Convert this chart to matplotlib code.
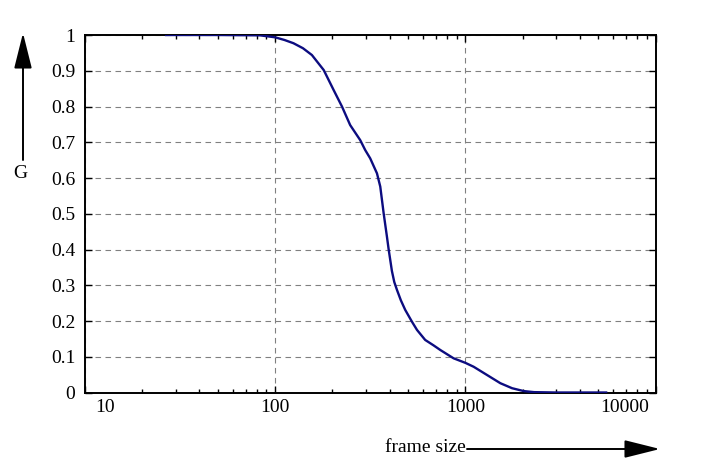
import numpy as np
import matplotlib
matplotlib.use("Agg")
import matplotlib.pyplot as plt
from matplotlib.ticker import FixedLocator, NullFormatter
from matplotlib.transforms import ScaledTranslation

# curve
frame_size = [26.7, 50, 83.4, 100, 112, 124.8, 140, 156, 180, 203, 224.5, 248, 280, 297.6,
              316, 343, 357, 372, 387, 395, 411, 423, 437, 458, 483, 524, 557, 615, 680,
              738, 867, 1000, 1106, 1300, 1528, 1761, 2026, 2300, 3000, 5500]
g_value = [1.0, 1.0, 0.999, 0.9935, 0.986, 0.977, 0.963, 0.944, 0.902, 0.846, 0.80, 0.748,
           0.706, 0.678, 0.655, 0.613, 0.576, 0.501, 0.436, 0.401, 0.340, 0.309, 0.287,
           0.258, 0.231, 0.198, 0.175, 0.147, 0.132, 0.119, 0.0957, 0.083, 0.072, 0.049,
           0.026, 0.012, 0.004, 0.001, 0.0, 0.0]

x_ticks = [10, 100, 1000, 10000]
x_labels = ["10", "100", "1000", "10000"]
y_ticks = [0, 0.1, 0.2, 0.3, 0.4, 0.5, 0.6, 0.7, 0.8, 0.9, 1]
y_labels = ["0", "0.1", "0.2", "0.3", "0.4", "0.5", "0.6", "0.7", "0.8", "0.9", "1"]

plt.rcParams["font.family"] = ["Liberation Serif", "DejaVu Serif"]
plt.rcParams["font.size"] = 14

fig = plt.figure(figsize=(7.08, 4.68), dpi=100)
ax = fig.add_axes([85 / 708, 1 - 392.5 / 468, 570.5 / 708, 357.5 / 468])

ax.plot(frame_size, g_value, color="#0c0c80", linewidth=1.7, zorder=3,
        solid_joinstyle="round")

ax.set_xscale("log")
ax.set_xlim(10, 10000)
ax.set_ylim(0, 1)
ax.set_xticks(x_ticks)
ax.set_xticklabels(x_labels)
minor = [m * 10 ** d for d in range(1, 4) for m in range(2, 10)]
ax.xaxis.set_minor_locator(FixedLocator(minor))
ax.xaxis.set_minor_formatter(NullFormatter())
ax.set_yticks(y_ticks)
ax.set_yticklabels(y_labels)

ax.tick_params(which="both", direction="in", top=True, right=True, width=1.0)
ax.tick_params(which="major", length=5)
ax.tick_params(which="minor", length=3)
ax.tick_params(axis="x", pad=5)
ax.tick_params(axis="y", pad=7)
for spine in ax.spines.values():
    spine.set_linewidth(1.4)

ax.xaxis.grid(True, which="major", color="#808080", linestyle=(0, (5, 4)), linewidth=0.8)
ax.yaxis.grid(True, which="major", color="#808080", linestyle=(0, (5, 4)), linewidth=0.8)
ax.set_axisbelow(True)

# end labels sit inward from their ticks
labels = ax.get_xticklabels()
labels[0].set_transform(labels[0].get_transform() + ScaledTranslation(20 / 100, 0, fig.dpi_scale_trans))
labels[-1].set_transform(labels[-1].get_transform() + ScaledTranslation(-31 / 100, 0, fig.dpi_scale_trans))

# axis name arrows
arrow = dict(arrowstyle="-|>,head_length=2.2,head_width=0.55", mutation_scale=10,
             color="black", linewidth=1.4, shrinkA=0, shrinkB=0)
ax.annotate("", xy=(23, 435), xytext=(23, 308), xycoords="figure pixels",
            textcoords="figure pixels", arrowprops=arrow)
fig.text(20 / 708, 1 - 173 / 468, "G", ha="center", va="center")
ax.annotate("", xy=(660, 19), xytext=(467, 19), xycoords="figure pixels",
            textcoords="figure pixels", arrowprops=arrow)
fig.text(466 / 708, 1 - 448 / 468, "frame size", ha="right", va="center")

fig.savefig("out.png", dpi=100)
